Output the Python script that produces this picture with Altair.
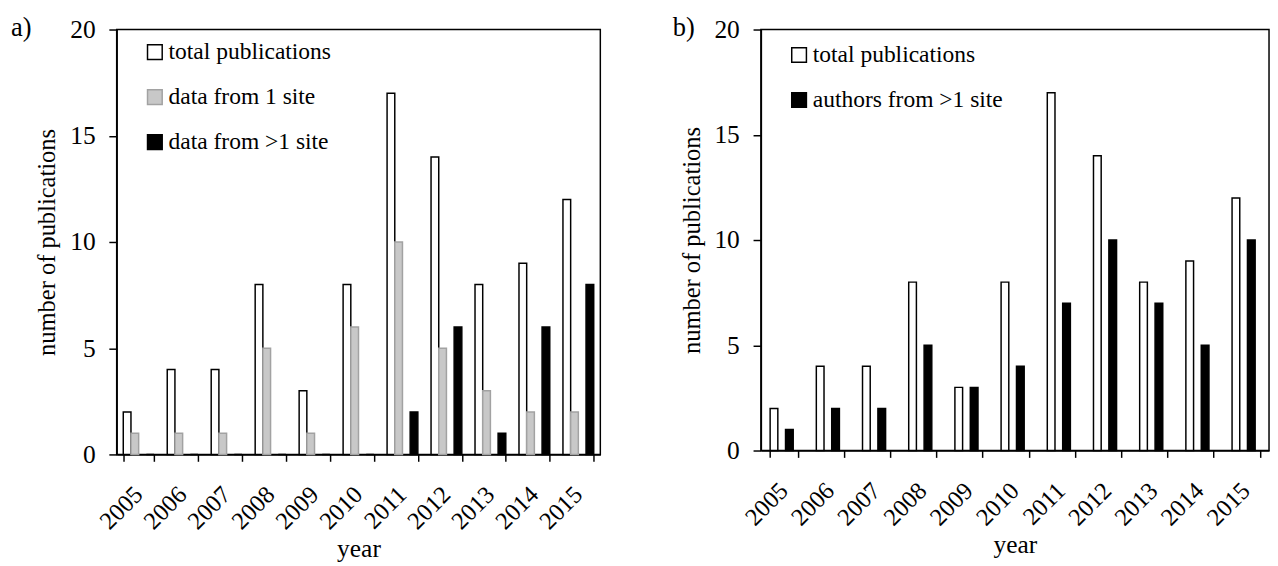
import altair as alt
import pandas as pd

years = ["2005", "2006", "2007", "2008", "2009", "2010", "2011", "2012", "2013", "2014", "2015"]
total_pubs = [2, 4, 4, 8, 3, 8, 17, 14, 8, 9, 12]
data_one_site = [1, 1, 1, 5, 1, 6, 10, 5, 3, 2, 2]
data_multi_site = [0, 0, 0, 0, 0, 0, 2, 6, 1, 6, 8]
authors_multi_site = [1, 2, 2, 5, 3, 4, 7, 10, 7, 5, 10]

series_a = ["total publications", "data from 1 site", "data from >1 site"]
series_b = ["total publications", "authors from >1 site"]

rows_a = []
for i, y in enumerate(years):
    rows_a.append({"year": y, "series": series_a[0], "n": total_pubs[i]})
    rows_a.append({"year": y, "series": series_a[1], "n": data_one_site[i]})
    rows_a.append({"year": y, "series": series_a[2], "n": data_multi_site[i]})
df_a = pd.DataFrame(rows_a)

rows_b = []
for i, y in enumerate(years):
    rows_b.append({"year": y, "series": series_b[0], "n": total_pubs[i]})
    rows_b.append({"year": y, "series": series_b[1], "n": authors_multi_site[i]})
df_b = pd.DataFrame(rows_b)

FONT = "'Liberation Serif', 'Times New Roman', Times, serif"


def panel(df, series, fills, strokes, pad_inner, width, height, label, title_dx, legend_y):
    x_axis = alt.Axis(
        title="year", labelAngle=-45, labelAlign="right", labelBaseline="top",
        labelFontSize=25, titleFontSize=26, tickSize=7, tickBand="extent",
        labelPadding=21, labelOffset=-9, titlePadding=2, domainWidth=1.5, tickWidth=1.5,
    )
    y_axis = alt.Axis(
        title="number of publications", values=[0, 5, 10, 15, 20], grid=False,
        labelFontSize=26, titleFontSize=25, tickSize=8, labelPadding=14,
        titlePadding=10, domainWidth=1.5, tickWidth=1.5,
    )
    return (
        alt.Chart(df)
        .mark_bar(strokeWidth=1.5)
        .encode(
            x=alt.X("year:N", sort=years, axis=x_axis,
                    scale=alt.Scale(paddingInner=pad_inner, paddingOuter=pad_inner / 2)),
            xOffset=alt.XOffset("series:N", sort=series,
                                scale=alt.Scale(paddingInner=0, paddingOuter=0)),
            y=alt.Y("n:Q", axis=y_axis, scale=alt.Scale(domain=[0, 20], nice=False)),
            fill=alt.Fill("series:N", sort=series,
                          scale=alt.Scale(domain=series, range=fills),
                          legend=alt.Legend(
                              title=None, orient="none", legendX=27, legendY=legend_y,
                              symbolType="square", symbolSize=225, symbolStrokeWidth=1.5,
                              labelFontSize=24, labelFont=FONT, labelOffset=2,
                              rowPadding=22, padding=0, labelLimit=400,
                              labelColor="black")),
            stroke=alt.Stroke("series:N", sort=series,
                              scale=alt.Scale(domain=series, range=strokes),
                              legend=None),
        )
        .properties(
            width=width, height=height,
            title=alt.TitleParams(label, anchor="start", frame="group", dx=title_dx,
                                  fontSize=27, font=FONT, fontWeight="normal",
                                  offset=-26, color="black"),
        )
    )


chart_a = panel(df_a, series_a, ["white", "#c8c8c8", "black"],
                ["black", "#a2a2a2", "black"], 0.3, 494, 434, "a)", -108, 11)
chart_b = panel(df_b, series_b, ["white", "black"], ["black", "black"],
                0.4, 519, 430, "b)", -90, 14)

chart = (
    alt.hconcat(chart_a, chart_b, spacing=72)
    .resolve_scale(fill="independent", stroke="independent", x="independent", y="independent")
    .properties(padding={"left": 2, "top": 0, "right": 0, "bottom": 0})
    .configure(font=FONT)
    .configure_view(stroke="black", strokeWidth=1.5)
    .configure_axis(labelColor="black", titleColor="black", domainColor="black",
                    tickColor="black", labelFont=FONT, titleFont=FONT,
                    titleFontWeight="normal")
    .configure_legend(labelFont=FONT)
)

chart.save("out.html", embed_options={"renderer": "svg", "actions": False})
